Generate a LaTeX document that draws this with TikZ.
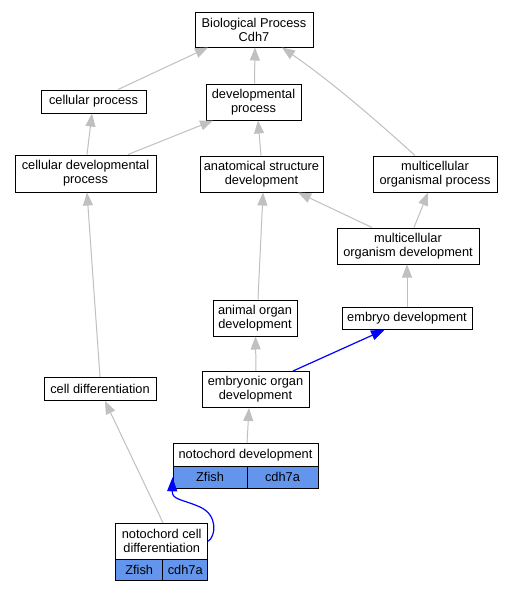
\documentclass[tikz,border=0pt]{standalone}
\usepackage{fontspec}
\setmainfont{Liberation Sans}
\usetikzlibrary{arrows.meta}
\definecolor{edgegray}{RGB}{192,192,192}
\definecolor{cellblue}{RGB}{100,149,237}
\tikzset{
  box/.style={draw=black, line width=1pt, fill=white, inner sep=0pt, align=center,
    font=\fontsize{12.8}{14}\selectfont},
  cell/.style={box, fill=cellblue},
  gedge/.style={draw=edgegray, line width=1pt, -{Triangle[length=13pt,width=10pt]}},
  bedge/.style={draw=blue, line width=1.2pt, -{Triangle[length=14pt,width=10pt]}},
}
\begin{document}
\begin{tikzpicture}[x=1pt,y=-1pt]
\useasboundingbox[fill=white] (0,0) rectangle (512,592);
\node[box, minimum width=118pt, minimum height=35pt] (bio) at (254,29.5) {Biological Process\\Cdh7};
\node[box, minimum width=105pt, minimum height=23pt] (cp) at (93.5,101.5) {cellular process};
\node[box, minimum width=95pt, minimum height=36pt] (dp) at (253.5,102) {developmental\\process};
\node[box, minimum width=141pt, minimum height=37pt] (cdp) at (85.5,173.5) {cellular developmental\\process};
\node[box, minimum width=123pt, minimum height=36pt] (asd) at (261.5,174) {anatomical structure\\development};
\node[box, minimum width=124pt, minimum height=36pt] (mop) at (435,174) {multicellular\\organismal process};
\node[box, minimum width=142pt, minimum height=36pt] (mod) at (408,246) {multicellular\\organism development};
\node[box, minimum width=130pt, minimum height=22pt] (ed) at (407,318) {embryo development};
\node[box, minimum width=84pt, minimum height=36pt] (aod) at (255,318) {animal organ\\development};
\node[box, minimum width=112pt, minimum height=23pt] (cd) at (100,389) {cell differentiation};
\node[box, minimum width=107pt, minimum height=36pt] (eod) at (255.5,389.5) {embryonic organ\\development};
\node[box, minimum width=145pt, minimum height=23pt] (ndt) at (245.5,455) {notochord development};
\node[cell, minimum width=74pt, minimum height=21.5pt] (ndz) at (210,477.3) {Zfish};
\node[cell, minimum width=71pt, minimum height=21.5pt] (ndc) at (282.5,477.3) {cdh7a};
\node[box, minimum width=92pt, minimum height=36pt] (ncdt) at (161.7,541.3) {notochord cell\\differentiation};
\node[cell, minimum width=47pt, minimum height=21.4pt] (ncdz) at (139.2,570) {Zfish};
\node[cell, minimum width=45pt, minimum height=21.4pt] (ncdc) at (185.2,570) {cdh7a};
\coordinate (bmid) at (200,507);

\draw[gedge] ([xshift=24.5pt]cp.north) -- ([xshift=-46pt]bio.south);
\draw[gedge] ([xshift=1pt]dp.north) -- ([xshift=1pt]bio.south);
\draw[gedge] ([xshift=-20pt]mop.north) .. controls (377,121) and (332,82) .. ([xshift=28pt]bio.south);
\draw[gedge] ([xshift=1.5pt]cdp.north) -- ([xshift=-1.5pt]cp.south);
\draw[gedge] ([xshift=42.5pt]cdp.north) -- ([xshift=-40.5pt]dp.south);
\draw[gedge] ([xshift=-0.5pt]asd.north) -- ([xshift=4.5pt]dp.south);
\draw[gedge] ([xshift=-36pt]mod.north) -- ([xshift=36.5pt]asd.south);
\draw[gedge] ([xshift=6pt]mod.north) -- ([xshift=-7pt]mop.south);
\draw[gedge] (ed.north) -- ([xshift=-1pt]mod.south);
\draw[gedge] ([xshift=3pt]aod.north) -- ([xshift=1.5pt]asd.south);
\draw[gedge] (cd.north) -- ([xshift=1.5pt]cdp.south);
\draw[gedge] ([xshift=0.5pt]eod.north) -- ([xshift=0.5pt]aod.south);
\draw[bedge] ([xshift=37.5pt]eod.north) -- ([xshift=-22pt]ed.south);
\draw[gedge] ([xshift=1.5pt]ndt.north) -- ([xshift=-6.5pt]eod.south);
\draw[gedge] ([xshift=1.3pt]ncdt.north) -- ([xshift=5pt]cd.south);
\draw[bedge] (ncdt.east) .. controls (216,536) and (218,515) .. (bmid) .. controls (182,499) and (172,500) .. (ndz.west);
\end{tikzpicture}
\end{document}
